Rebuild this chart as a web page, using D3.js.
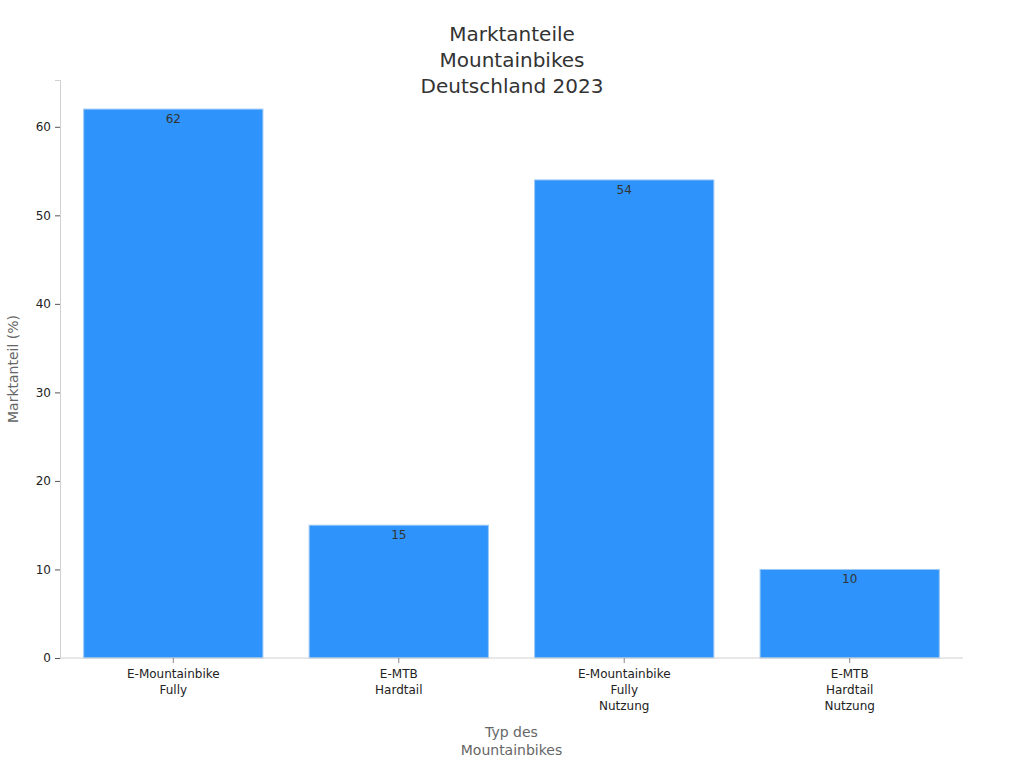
<!DOCTYPE html>
<html>
<head>
<meta charset="utf-8">
<script src="https://cdn.jsdelivr.net/npm/d3@7"></script>
<style>
  body { margin: 0; background: #fff; }
  svg text { font-family: "DejaVu Sans", sans-serif; }
</style>
</head>
<body>
<svg id="chart" width="1024" height="768"></svg>
<script>
const categories = [
  ["E-Mountainbike", "Fully"],
  ["E-MTB", "Hardtail"],
  ["E-Mountainbike", "Fully", "Nutzung"],
  ["E-MTB", "Hardtail", "Nutzung"]
];
const values = [62, 15, 54, 10];
const yTicks = [0, 10, 20, 30, 40, 50, 60];
const titleLines = ["Marktanteile", "Mountainbikes", "Deutschland 2023"];
const xTitleLines = ["Typ des", "Mountainbikes"];
const yTitle = "Marktanteil (%)";

const svg = d3.select("#chart");
const margin = { left: 60, right: 61, top: 80, bottom: 110 };
const W = 1024, H = 768;

const keys = categories.map((c, i) => i);
const x = d3.scaleBand().domain(keys).range([margin.left, W - margin.right]).paddingInner(0.205).paddingOuter(0.105);
const y = d3.scaleLinear().domain([0, 62 * 1.053]).range([H - margin.bottom, margin.top]);

// bars
svg.append("g").selectAll("rect").data(values).join("rect")
  .attr("x", (d, i) => x(i))
  .attr("y", d => y(d))
  .attr("width", x.bandwidth())
  .attr("height", d => y(0) - y(d))
  .attr("fill", "#2E93FA")
  .attr("stroke", "#9cc8f5")
  .attr("stroke-width", 1);

// value labels
svg.append("g").selectAll("text").data(values).join("text")
  .attr("x", (d, i) => x(i) + x.bandwidth() / 2)
  .attr("y", d => y(d) + 14)
  .attr("text-anchor", "middle")
  .attr("font-size", 12)
  .attr("fill", "#333")
  .text(d => d);

// y axis
const yAxis = svg.append("g").attr("transform", `translate(${margin.left},0)`)
  .call(d3.axisLeft(y).tickValues(yTicks).tickSize(5).tickPadding(4));
yAxis.select(".domain").attr("stroke", "#d0d0d0");
yAxis.selectAll(".tick line").attr("stroke", "#555");
yAxis.selectAll(".tick text").attr("font-size", 12).attr("fill", "#222").attr("font-family", "DejaVu Sans");

// x axis
const xAxis = svg.append("g").attr("transform", `translate(0,${y(0)})`)
  .call(d3.axisBottom(x).tickSize(5).tickFormat(""));
xAxis.select(".domain").attr("stroke", "#d0d0d0").attr("d", `M${margin.left},0H${W - margin.right}`);
xAxis.selectAll(".tick line").attr("stroke", "#888");
xAxis.selectAll(".tick").each(function(d) {
  const t = d3.select(this).append("text")
    .attr("text-anchor", "middle")
    .attr("font-size", 12)
    .attr("fill", "#222")
    .attr("y", 20);
  categories[d].forEach((line, j) => {
    t.append("tspan").attr("x", 0).attr("dy", j === 0 ? 0 : 16).text(line);
  });
});

// title
const title = svg.append("text")
  .attr("x", W / 2).attr("y", 41)
  .attr("text-anchor", "middle")
  .attr("font-size", 20)
  .attr("fill", "#333");
titleLines.forEach((l, j) => title.append("tspan").attr("x", W / 2).attr("dy", j === 0 ? 0 : 26).text(l));

// x title
const xt = svg.append("text")
  .attr("x", (margin.left + W - margin.right) / 2).attr("y", 737)
  .attr("text-anchor", "middle")
  .attr("font-size", 14)
  .attr("fill", "#666");
xTitleLines.forEach((l, j) => xt.append("tspan").attr("x", (margin.left + W - margin.right) / 2).attr("dy", j === 0 ? 0 : 18).text(l));

// y title
svg.append("text")
  .attr("transform", `translate(18,${(margin.top + H - margin.bottom) / 2}) rotate(-90)`)
  .attr("text-anchor", "middle")
  .attr("font-size", 14)
  .attr("fill", "#666")
  .text(yTitle);
</script>
</body>
</html>
